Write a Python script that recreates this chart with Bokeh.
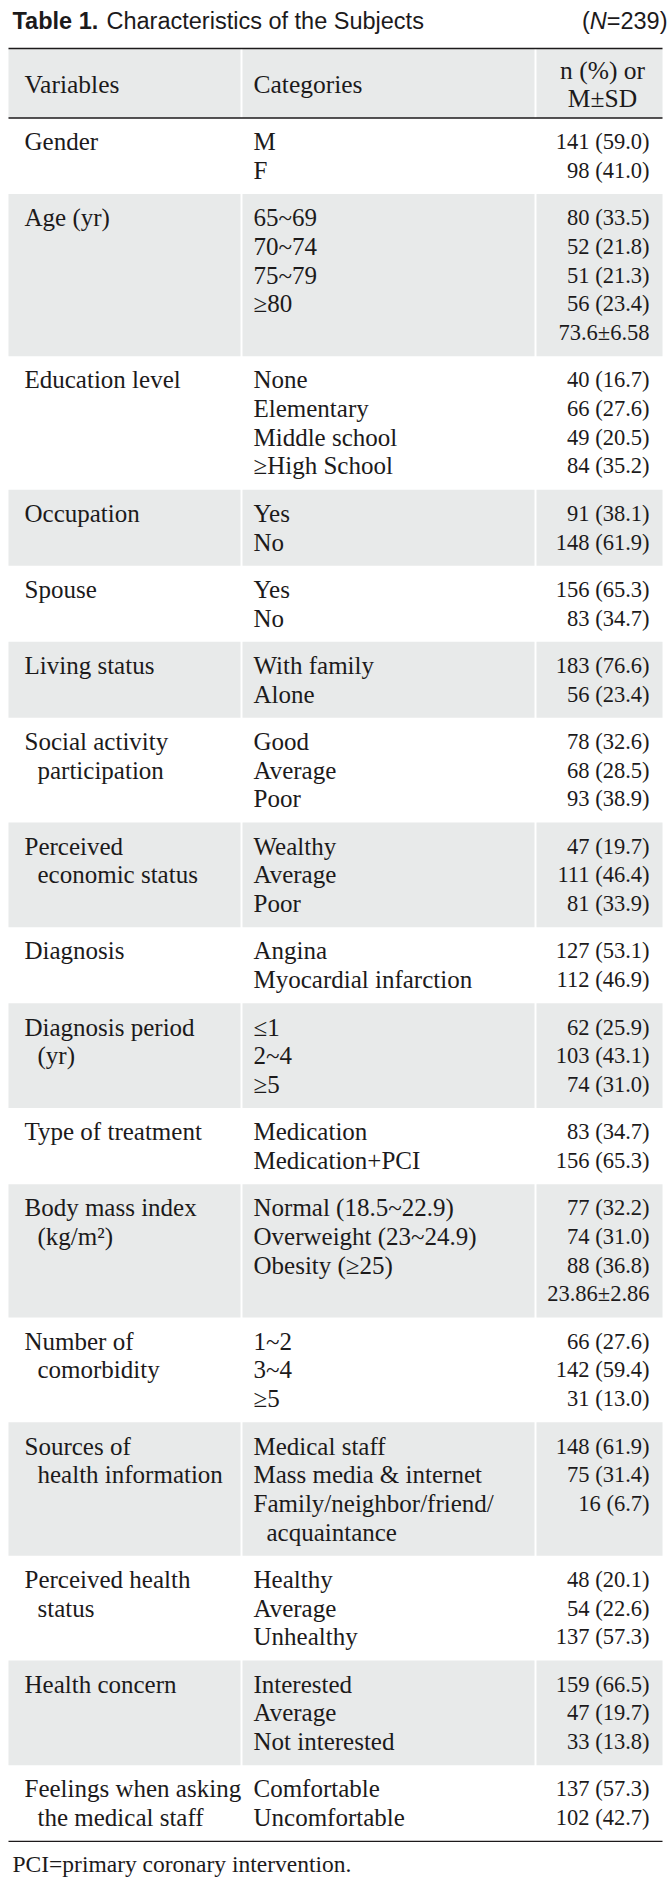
from bokeh.plotting import figure
from bokeh.models import Range1d, ColumnDataSource
from bokeh.core.properties import value
from bokeh.embed import file_html
from bokeh.resources import INLINE

# ---------------- data ----------------
title_bold = "Table 1."
title_rest = "Characteristics of the Subjects"
n_label = "239"
header = ["Variables", "Categories", "n (%) or", "M\u00b1SD"]
footnote = "PCI=primary coronary intervention."

variables = [
    ["Gender"],
    ["Age (yr)"],
    ["Education level"],
    ["Occupation"],
    ["Spouse"],
    ["Living status"],
    ["Social activity", "participation"],
    ["Perceived", "economic status"],
    ["Diagnosis"],
    ["Diagnosis period", "(yr)"],
    ["Type of treatment"],
    ["Body mass index", "(kg/m\u00b2)"],
    ["Number of", "comorbidity"],
    ["Sources of", "health information"],
    ["Perceived health", "status"],
    ["Health concern"],
    ["Feelings when asking", "the medical staff"],
]

categories = [
    ["M", "F"],
    ["65~69", "70~74", "75~79", "\u226580", ""],
    ["None", "Elementary", "Middle school", "\u2265High School"],
    ["Yes", "No"],
    ["Yes", "No"],
    ["With family", "Alone"],
    ["Good", "Average", "Poor"],
    ["Wealthy", "Average", "Poor"],
    ["Angina", "Myocardial infarction"],
    ["\u22641", "2~4", "\u22655"],
    ["Medication", "Medication+PCI"],
    ["Normal (18.5~22.9)", "Overweight (23~24.9)", "Obesity (\u226525)", ""],
    ["1~2", "3~4", "\u22655"],
    ["Medical staff", "Mass media & internet", "Family/neighbor/friend/", "acquaintance"],
    ["Healthy", "Average", "Unhealthy"],
    ["Interested", "Average", "Not interested"],
    ["Comfortable", "Uncomfortable"],
]

values = [
    ["141 (59.0)", "98 (41.0)"],
    ["80 (33.5)", "52 (21.8)", "51 (21.3)", "56 (23.4)", "73.6\u00b16.58"],
    ["40 (16.7)", "66 (27.6)", "49 (20.5)", "84 (35.2)"],
    ["91 (38.1)", "148 (61.9)"],
    ["156 (65.3)", "83 (34.7)"],
    ["183 (76.6)", "56 (23.4)"],
    ["78 (32.6)", "68 (28.5)", "93 (38.9)"],
    ["47 (19.7)", "111 (46.4)", "81 (33.9)"],
    ["127 (53.1)", "112 (46.9)"],
    ["62 (25.9)", "103 (43.1)", "74 (31.0)"],
    ["83 (34.7)", "156 (65.3)"],
    ["77 (32.2)", "74 (31.0)", "88 (36.8)", "23.86\u00b12.86"],
    ["66 (27.6)", "142 (59.4)", "31 (13.0)"],
    ["148 (61.9)", "75 (31.4)", "16 (6.7)", ""],
    ["48 (20.1)", "54 (22.6)", "137 (57.3)"],
    ["159 (66.5)", "47 (19.7)", "33 (13.8)"],
    ["137 (57.3)", "102 (42.7)"],
]

# ---------------- layout / style ----------------
W, H = 671, 1878
X_L, X_R = 8, 662
SEP1, SEP2 = 241, 535
GAP = 1.0
X_VAR, X_CAT, X_VAL, X_HDR = 24, 253, 649, 602
INDENT = 13
TOP_RULE, HDR_RULE = 48, 117.5
LINE, PAD = 28.7, 18.65
GRAY = "#e8eaea"
INK = "#1c1a1b"
SERIF = "Liberation Serif"
SANS = "Liberation Sans"
FS_TXT = "25px"
FS_HDR = "25.5px"
FS_VAL = "22.5px"
FS_TITLE = 23.5

p = figure(width=W, height=H, x_range=Range1d(0, W), y_range=Range1d(H, 0),
           output_backend="svg", toolbar_location=None, min_border=0)
p.axis.visible = False
p.grid.visible = False
p.outline_line_color = None
p.background_fill_color = "white"
p.border_fill_color = "white"


def band(top, bottom):
    p.quad(left=[X_L, SEP1 + GAP, SEP2 + GAP], right=[SEP1 - GAP, SEP2 - GAP, X_R],
           top=[top] * 3, bottom=[bottom] * 3, fill_color=GRAY, line_color=None)


band(TOP_RULE, HDR_RULE)

var_src = dict(x=[], y=[], t=[])
cat_src = dict(x=[], y=[], t=[])
val_src = dict(x=[], y=[], t=[])

y0 = HDR_RULE
for gi, (vs, cs, vals) in enumerate(zip(variables, categories, values)):
    n = max(len(vs), len(cs))
    h = PAD + n * LINE
    if gi % 2 == 1:
        band(y0, y0 + h)
    for i in range(n):
        yc = y0 + PAD / 2 + LINE * (i + 0.5)
        if i < len(vs):
            var_src["x"].append(X_VAR + (INDENT if i > 0 else 0))
            var_src["y"].append(yc)
            var_src["t"].append(vs[i])
        if i < len(cs) and cs[i]:
            cont = (i < len(vals) and vals[i] == "")
            cat_src["x"].append(X_CAT + (INDENT if cont else 0))
            cat_src["y"].append(yc)
            cat_src["t"].append(cs[i])
        if i < len(vals) and vals[i]:
            val_src["x"].append(X_VAL)
            val_src["y"].append(yc)
            val_src["t"].append(vals[i])
    y0 += h
BOTTOM_RULE = y0

p.segment(x0=[X_L] * 3, x1=[X_R] * 3, y0=[TOP_RULE, HDR_RULE, BOTTOM_RULE],
          y1=[TOP_RULE, HDR_RULE, BOTTOM_RULE], line_color=INK, line_width=1.4)


def txt(src, align, size, font=SERIF, style="normal"):
    p.text(x="x", y="y", text="t", source=ColumnDataSource(src), text_align=align,
           text_baseline="middle", text_font=value(font), text_font_size=value(size),
           text_color=INK, text_font_style=style)


txt(var_src, "left", FS_TXT)
txt(cat_src, "left", FS_TXT)
txt(val_src, "right", FS_VAL)

# header text
txt(dict(x=[X_VAR, X_CAT], y=[84, 84], t=header[:2]), "left", FS_HDR)
txt(dict(x=[X_HDR, X_HDR], y=[70, 98], t=header[2:]), "center", FS_HDR)

# title
TY = 20
fs = FS_TITLE
txt(dict(x=[12], y=[TY], t=[title_bold]), "left", f"{fs}px", SANS, "bold")
txt(dict(x=[106], y=[TY], t=[title_rest]), "left", f"{fs}px", SANS)
x_end = 667
w_tail = (0.584 + 3 * 0.556 + 0.333) * fs
w_n = 0.722 * fs
txt(dict(x=[x_end], y=[TY], t=["=" + n_label + ")"]), "right", f"{fs}px", SANS)
txt(dict(x=[x_end - w_tail], y=[TY], t=["N"]), "right", f"{fs}px", SANS, "italic")
txt(dict(x=[x_end - w_tail - w_n], y=[TY], t=["("]), "right", f"{fs}px", SANS)

# footnote
txt(dict(x=[12], y=[BOTTOM_RULE + 23], t=[footnote]), "left", "23.5px")

open("out.html", "w").write(file_html(p, INLINE))
